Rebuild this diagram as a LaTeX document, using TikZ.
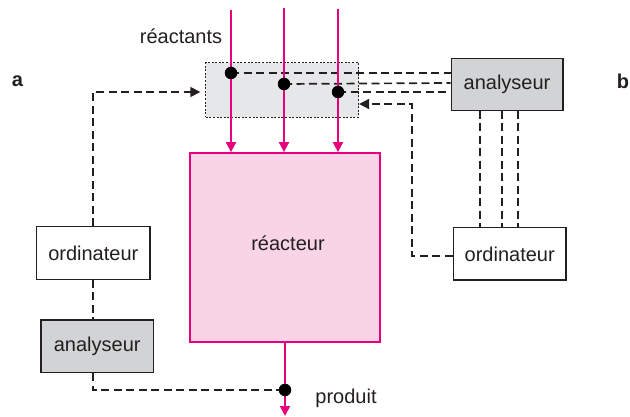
\documentclass[tikz,border=0pt]{standalone}
\usepackage{fontspec}
\setmainfont{Liberation Sans}
\usetikzlibrary{arrows.meta}
\definecolor{mag}{HTML}{E6007E}
\definecolor{pinkfill}{HTML}{F9D3E6}
\definecolor{grayA}{HTML}{D1D3D4}
\definecolor{grayB}{HTML}{E6E7E8}
\definecolor{dk}{HTML}{231F20}
\begin{document}
\begin{tikzpicture}[x=1pt,y=-1pt,
  lbl/.style={font=\fontsize{20}{24}\selectfont, text=dk},
  blbl/.style={font=\fontsize{20}{24}\selectfont\bfseries, text=dk},
  box/.style={draw=dk, line width=1.3pt, inner sep=0pt, lbl, anchor=center},
  dline/.style={draw=dk, line width=1.7pt, dash pattern=on 8pt off 4.5pt},
  dlinearrow/.style={dline, -{Triangle[width=10pt,length=10pt]}},
  flow/.style={draw=mag, line width=1.8pt, -{Triangle[width=10pt,length=10pt]}},
  dot/.style={circle, fill=black, inner sep=0pt, minimum size=12.5pt}]
\useasboundingbox (0,0) rectangle (630,417);

% boxes
\node[box, draw=mag, line width=1.8pt, fill=pinkfill, minimum width=190pt, minimum height=189pt] (reactor) at (285,247.5) {};
\node[lbl] (reactortxt) at (288,243) {réacteur};
\node[draw=dk, line width=0.8pt, dash pattern=on 2pt off 1.6pt, fill=grayB, inner sep=0pt, minimum width=153pt, minimum height=54.6pt] (gbox) at (282.2,90) {};
\node[box, fill=grayA, minimum width=111.7pt, minimum height=52.4pt] (analR) at (507,84.5) {analyseur};
\node[box, fill=white, minimum width=112.7pt, minimum height=52.3pt] (ordR) at (509.7,254) {ordinateur};
\node[box, fill=white, minimum width=113.3pt, minimum height=52.6pt] (ordL) at (93.3,253) {ordinateur};
\node[box, fill=grayA, minimum width=112.3pt, minimum height=52.7pt] (analL) at (97.2,346.3) {analyseur};

% labels
\node[lbl] (reac) at (181,36) {réactants};
\node[lbl] (prod) at (346,398) {produit};
\node[blbl] (la) at (17.5,81) {a};
\node[blbl] (lb) at (623,81) {b};

% coordinates
\coordinate (t1) at (231,10);
\coordinate (t2) at (284,8);
\coordinate (t3) at (338,9);
\coordinate (pb) at (285,416);
\coordinate (c1) at (231,73);
\coordinate (c2) at (284,84);
\coordinate (c3) at (338,92);
\coordinate (cp) at (285,390);
\coordinate (lc) at (93,390);

% dashed links to analyser (right)
\draw[dline] (c1) -- (analR.west |- 0,73);
\draw[dline] (c2) -- (analR.west |- 0,83);
\draw[dline] (c3) -- (analR.west |- 0,92);
\foreach \xx in {480,502,518}
  \draw[dline] (\xx,110.7) -- (\xx,227.8);
\draw[dlinearrow] (ordR.west |- 0,256) -- (412,256) -- (412,104) -- (gbox.east |- 0,104);

% left loop
\draw[dlinearrow, shorten >=5pt] (ordL.north -| 93,0) -- (93,92) -- (gbox.west |- 0,92);
\draw[dline] (ordL.south -| 93,0) -- (analL.north -| 93,0);
\draw[dline] (analL.south -| 93,0) -- (lc) -- (cp);

% pink flows
\draw[flow] (t1) -- (t1 |- reactor.north);
\draw[flow] (t2) -- (t2 |- reactor.north);
\draw[flow] (t3) -- (t3 |- reactor.north);
\draw[flow] (reactor.south) -- (pb);

% dots
\node[dot] (d1) at (c1) {};
\node[dot] (d2) at (c2) {};
\node[dot] (d3) at (c3) {};
\node[dot] (dp) at (cp) {};
\end{tikzpicture}
\end{document}
